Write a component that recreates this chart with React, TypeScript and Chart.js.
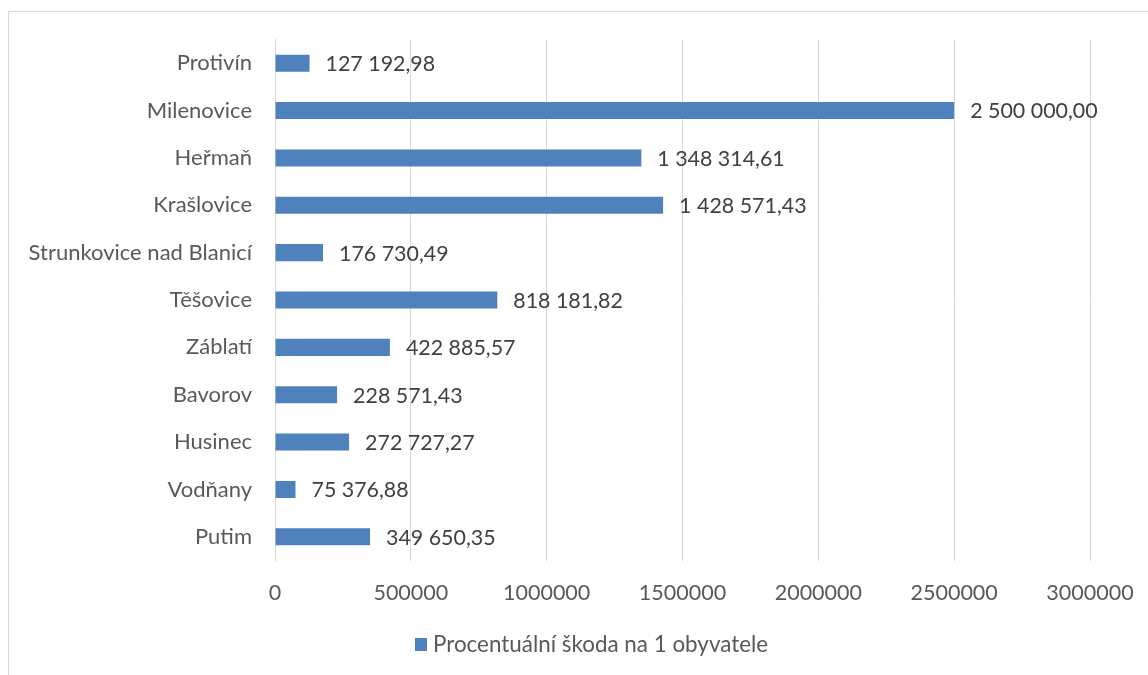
import React, { useEffect, useRef } from "react";
import { Chart, registerables } from "chart.js";

Chart.register(...registerables);

const categories: string[] = [
  "Protivín",
  "Milenovice",
  "Heřmaň",
  "Krašlovice",
  "Strunkovice nad Blanicí",
  "Těšovice",
  "Záblatí",
  "Bavorov",
  "Husinec",
  "Vodňany",
  "Putim",
];

const values: number[] = [
  127192.98, 2500000, 1348314.61, 1428571.43, 176730.49, 818181.82, 422885.57,
  228571.43, 272727.27, 75376.88, 349650.35,
];

const seriesLabel = "Procentuální škoda na 1 obyvatele";
const xTicks: number[] = [0, 500000, 1000000, 1500000, 2000000, 2500000, 3000000];

const FONT = "Lato";
const BAR_COLOR = "#4F81BD";

function formatCz(v: number): string {
  const [intPart, dec] = v.toFixed(2).split(".");
  const withSpaces = intPart.replace(/\B(?=(\d{3})+(?!\d))/g, " ");
  return withSpaces + "," + dec;
}

const dataLabelPlugin = {
  id: "dataLabels",
  afterDatasetsDraw(chart: any) {
    const ctx = chart.ctx;
    const meta = chart.getDatasetMeta(0);
    ctx.save();
    ctx.font = `21.4px ${FONT}`;
    ctx.fillStyle = "#404040";
    ctx.textAlign = "left";
    ctx.textBaseline = "middle";
    meta.data.forEach((bar: any, i: number) => {
      const v = chart.data.datasets[0].data[i];
      ctx.fillText(formatCz(v), bar.x + 16, bar.y + 1);
    });
    ctx.restore();
  },
};

const legendPlugin = {
  id: "customLegend",
  afterDraw(chart: any) {
    const ctx = chart.ctx;
    const ds = chart.data.datasets[0];
    ctx.save();
    ctx.font = `22.4px ${FONT}`;
    const text = ds.label;
    const boxX = 415;
    const boxY = 638;
    ctx.fillStyle = ds.backgroundColor;
    ctx.fillRect(boxX, boxY, 12, 13);
    ctx.fillStyle = "#595959";
    ctx.textAlign = "left";
    ctx.textBaseline = "middle";
    ctx.fillText(text, boxX + 18, boxY + 7);
    ctx.restore();
  },
};

export default function App() {
  const canvasRef = useRef<HTMLCanvasElement | null>(null);

  useEffect(() => {
    if (!canvasRef.current) return;
    const chart = new Chart(canvasRef.current, {
      type: "bar",
      data: {
        labels: categories,
        datasets: [
          {
            label: seriesLabel,
            data: values,
            backgroundColor: BAR_COLOR,
            borderWidth: 0,
            categoryPercentage: 1,
            barPercentage: 0.36,
          },
        ],
      },
      options: {
        indexAxis: "y",
        responsive: false,
        animation: false,
        devicePixelRatio: 1,
        layout: { padding: { left: 0, right: 58, top: 39.5, bottom: 54.5 } },
        plugins: {
          legend: { display: false },
          tooltip: { enabled: false },
        },
        scales: {
          x: {
            min: 0,
            max: 3000000,
            afterBuildTicks: (scale: any) => {
              scale.ticks = xTicks.map((v) => ({ value: v }));
            },
            afterFit: (scale: any) => {
              scale.height = 60;
              scale.paddingLeft = 0;
              scale.paddingRight = 0;
            },
            grid: {
              color: "#d9d9d9",
              lineWidth: 1,
              drawTicks: false,
            },
            border: { display: false },
            ticks: {
              padding: 20,
              color: "#595959",
              font: { family: FONT, size: 21.5 },
              callback: (v: any) => String(v),
            },
          },
          y: {
            afterFit: (scale: any) => {
              scale.width = 275;
              scale.paddingTop = 0;
              scale.paddingBottom = 0;
            },
            grid: { display: false, drawTicks: false },
            border: { display: true, color: "#d9d9d9", width: 1 },
            ticks: {
              padding: 23,
              color: "#595959",
              font: { family: FONT, size: 22 },
              autoSkip: false,
            },
          },
        },
      },
      plugins: [dataLabelPlugin, legendPlugin],
    });
    return () => chart.destroy();
  }, []);

  return (
    <div
      style={{
        position: "fixed",
        left: 0,
        top: 0,
        width: 1148,
        height: 675,
        overflow: "hidden",
        background: "#ffffff",
      }}
    >
      <div
        style={{
          position: "absolute",
          left: 8,
          top: 11,
          width: 1300,
          height: 800,
          border: "1px solid #d9d9d9",
          boxSizing: "border-box",
        }}
      />
      <canvas
        ref={canvasRef}
        width={1148}
        height={675}
        style={{ position: "absolute", left: 0, top: 0, width: 1148, height: 675 }}
      />
    </div>
  );
}
